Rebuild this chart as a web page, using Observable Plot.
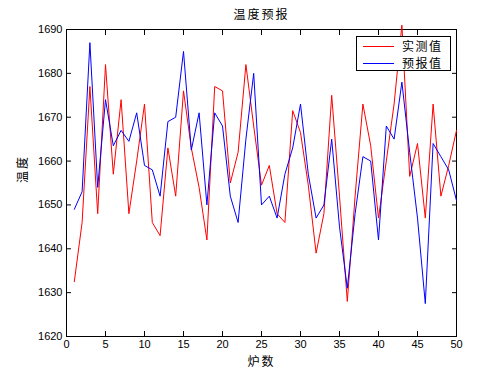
<!DOCTYPE html>
<html><head><meta charset="utf-8">
<script src="https://cdn.jsdelivr.net/npm/d3@7"></script>
<script src="https://cdn.jsdelivr.net/npm/@observablehq/plot@0.6"></script>
<style>
body{margin:0;background:#fff;}
#wrap{position:relative;width:504px;height:378px;background:#fff;}
.legend{position:absolute;left:356px;top:36px;width:95px;height:35px;border:1px solid #000;background:#fff;font-family:"Noto Sans CJK SC",sans-serif;font-size:12px;box-sizing:border-box;}
.legend .sw{position:absolute;left:6px;width:31px;height:1px;}
.legend .lb{position:absolute;left:45px;line-height:14px;letter-spacing:1.5px;white-space:nowrap;}
</style></head>
<body><div id="wrap"></div>
<script>
const furnace = [1,2,3,4,5,6,7,8,9,10,11,12,13,14,15,16,17,18,19,20,21,22,23,24,25,26,27,28,29,30,31,32,33,34,35,36,37,38,39,40,41,42,43,44,45,46,47,48,49,50];
const measured = [1632.5,1646,1677,1648,1682,1657,1674,1648,1660,1673,1646,1643,1663,1652,1676,1663,1654,1642,1677,1676,1655,1662,1682,1668,1654.5,1659,1648,1646,1671.5,1666.5,1654.5,1639,1648,1675,1652,1628,1652,1673,1663.5,1647,1660,1673,1691,1656.5,1664,1647,1673,1652,1659,1667];
const forecast = [1649,1653,1687,1654,1674,1663.5,1667,1664.5,1671,1659,1658,1652,1669,1670,1685,1662.5,1671,1650,1671,1668,1652,1646,1665,1680,1650,1652,1647,1657,1663,1673,1657,1647,1650,1665,1645,1631,1648,1661,1660,1642,1668,1665,1678,1662,1647,1627.5,1664,1661,1658,1651];
const xTicks = [0,5,10,15,20,25,30,35,40,45,50];
const yTicks = [1620,1630,1640,1650,1660,1670,1680,1690];
const seriesNames = ["实测值","预报值"];
const seriesColors = ["#ff0000","#0000ff"];
const titleText = "温度预报";
const xLabel = "炉数";
const yLabel = "温度";

const none = () => "";
const chart = Plot.plot({
  width: 504, height: 378,
  marginLeft: 66, marginRight: 48, marginTop: 29, marginBottom: 42,
  style: {fontFamily: "'Liberation Sans', Arial, sans-serif", fontSize: "11px", background: "white", color: "black"},
  x: {domain: [0, 50], label: null},
  y: {domain: [1620, 1690], label: null},
  marks: [
    Plot.frame({stroke: "black", strokeWidth: 1}),
    Plot.axisX(xTicks, {anchor: "bottom", tickSize: 0, tickPadding: 4, tickFormat: d => String(d), label: null}),
    Plot.axisX(xTicks, {anchor: "bottom", tickSize: 5, dy: -5, tickFormat: none, label: null}),
    Plot.axisX(xTicks, {anchor: "top", tickSize: 5, dy: 5, tickFormat: none, label: null}),
    Plot.axisY(yTicks, {anchor: "left", tickSize: 0, tickPadding: 4, tickFormat: d => String(d), label: null}),
    Plot.axisY(yTicks, {anchor: "left", tickSize: 5, dx: 5, tickFormat: none, label: null}),
    Plot.axisY(yTicks, {anchor: "right", tickSize: 5, dx: -5, tickFormat: none, label: null}),
    Plot.lineY(measured, {x: (d, i) => furnace[i], y: d => d, stroke: seriesColors[0], strokeWidth: 1}),
    Plot.lineY(forecast, {x: (d, i) => furnace[i], y: d => d, stroke: seriesColors[1], strokeWidth: 1}),
    Plot.text([titleText], {text: d => d, frameAnchor: "top", lineAnchor: "middle", dy: -14, fontSize: 12}),
    Plot.text([xLabel], {text: d => d, frameAnchor: "bottom", lineAnchor: "middle", dy: 26, fontSize: 12}),
    Plot.text([yLabel], {text: d => d, frameAnchor: "left", lineAnchor: "middle", dx: -43, rotate: -90, fontSize: 12})
  ]
});
chart.querySelectorAll("text").forEach(t => {
  if (/[\u4e00-\u9fff]/.test(t.textContent)) {
    t.style.fontFamily = "'Noto Sans CJK SC', sans-serif";
    t.setAttribute("letter-spacing", "2");
  }
});
const wrap = document.getElementById("wrap");
wrap.appendChild(chart);
const lg = document.createElement("div");
lg.className = "legend";
seriesNames.forEach((name, i) => {
  const top = i === 0 ? 9 : 25.5;
  const sw = document.createElement("div");
  sw.className = "sw"; sw.style.top = top + "px"; sw.style.background = seriesColors[i];
  const lb = document.createElement("div");
  lb.className = "lb"; lb.style.top = (top - 7) + "px"; lb.textContent = name;
  lg.appendChild(sw); lg.appendChild(lb);
});
wrap.appendChild(lg);
</script>
</body></html>
